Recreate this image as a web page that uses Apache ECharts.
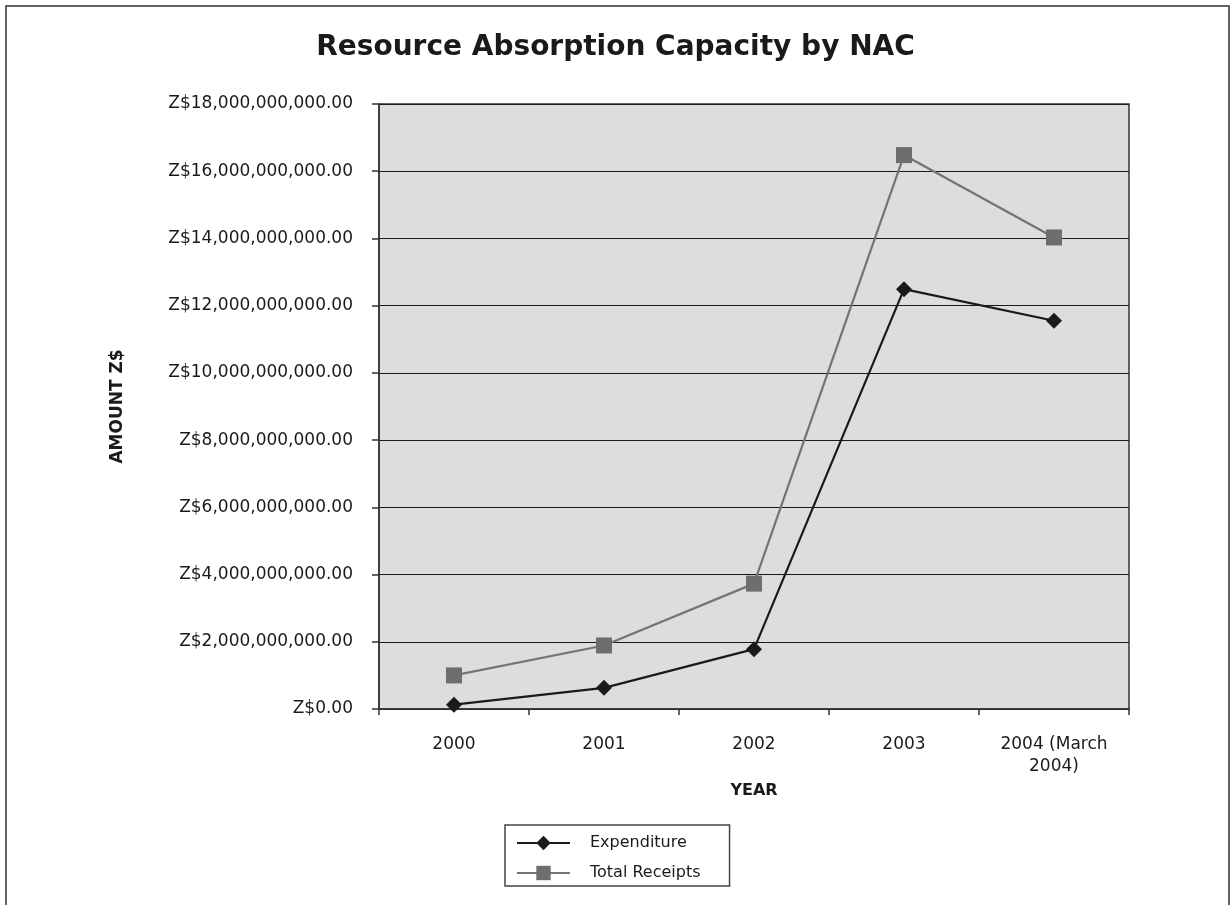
<!DOCTYPE html>
<html>
<head>
<meta charset="utf-8">
<script src="https://cdn.jsdelivr.net/npm/echarts@6/dist/echarts.min.js"></script>
<style>
html,body{margin:0;padding:0;background:#fff;}
#chart{width:1231px;height:905px;}
</style>
</head>
<body>
<div id="chart"></div>
<script>
const categories = ['2000', '2001', '2002', '2003', '2004 (March\n2004)'];
const expenditure = [0.13e9, 0.63e9, 1.78e9, 12.49e9, 11.55e9];
const totalReceipts = [1.0e9, 1.89e9, 3.73e9, 16.48e9, 14.03e9];
const yMin = 0, yMax = 18e9, yInterval = 2e9;

const FONT = 'DejaVu Sans';
const chart = echarts.init(document.getElementById('chart'), null, {renderer: 'canvas'});
function fmt(v) {
  return 'Z$' + Number(v).toLocaleString('en-US', {minimumFractionDigits: 2, maximumFractionDigits: 2});
}
chart.setOption({
  backgroundColor: '#ffffff',
  animation: false,
  graphic: [{
    type: 'rect', z: -1,
    shape: {x: 6, y: 6, width: 1223, height: 920},
    style: {fill: 'none', stroke: '#333', lineWidth: 1.5}
  }],
  title: {
    text: 'Resource Absorption Capacity by NAC',
    left: 'center', top: 29,
    textStyle: {fontFamily: FONT, fontWeight: 'bold', fontSize: 28, color: '#1a1a1a'}
  },
  grid: {
    left: 379, right: 102, top: 104, bottom: 196,
    show: true, backgroundColor: '#dcdddf', borderColor: '#333', borderWidth: 1.5
  },
  legend: {
    orient: 'vertical', left: 505, top: 825,
    padding: [10, 29, 5, 11],
    itemWidth: 53, itemHeight: 18, itemGap: 14,
    borderColor: '#444', borderWidth: 1.5,
    textStyle: {fontFamily: FONT, fontSize: 16, color: '#1a1a1a', padding: [0, 0, 0, 15]},
    data: ['Expenditure', 'Total Receipts']
  },
  xAxis: {
    type: 'category', data: categories, boundaryGap: true,
    name: 'YEAR', nameLocation: 'middle', nameGap: 71,
    nameTextStyle: {fontFamily: FONT, fontWeight: 'bold', fontSize: 16, color: '#1a1a1a'},
    axisLine: {lineStyle: {color: '#333', width: 1.5}},
    axisTick: {show: true, length: 6, lineStyle: {color: '#333', width: 1.5}},
    axisLabel: {fontFamily: FONT, fontSize: 17, color: '#1a1a1a', margin: 25, lineHeight: 22, interval: 0}
  },
  yAxis: {
    type: 'value', min: yMin, max: yMax, interval: yInterval,
    name: 'AMOUNT Z$', nameLocation: 'middle', nameGap: 253, nameRotate: 90,
    nameTextStyle: {fontFamily: FONT, fontWeight: 'bold', fontSize: 17, color: '#1a1a1a'},
    axisLine: {show: true, lineStyle: {color: '#333', width: 1.5}},
    axisTick: {show: true, length: 7, lineStyle: {color: '#333', width: 1.5}},
    splitLine: {show: true, lineStyle: {color: '#1a1a1a', width: 1.2}},
    axisLabel: {fontFamily: FONT, fontSize: 17, color: '#1a1a1a', margin: 26, formatter: fmt}
  },
  series: [
    {
      name: 'Expenditure', type: 'line', data: expenditure,
      symbol: 'diamond', symbolSize: 16,
      lineStyle: {color: '#1a1a1a', width: 2.2},
      itemStyle: {color: '#1a1a1a'}, z: 3
    },
    {
      name: 'Total Receipts', type: 'line', data: totalReceipts,
      symbol: 'rect', symbolSize: 16,
      lineStyle: {color: '#747474', width: 2.2},
      itemStyle: {color: '#6e6e6e'}, z: 2
    }
  ]
});
</script>
</body>
</html>
